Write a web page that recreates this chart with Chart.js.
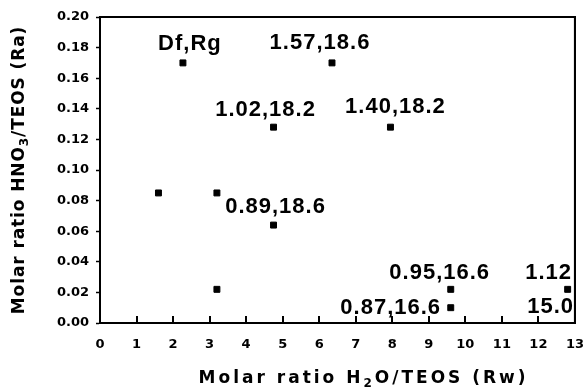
<!DOCTYPE html>
<html>
<head>
<meta charset="utf-8">
<script src="https://cdn.jsdelivr.net/npm/chart.js@4.4.0/dist/chart.umd.min.js"></script>
<style>
  html, body { margin: 0; padding: 0; background: #fff; }
  #wrap { width: 586px; height: 388px; }
</style>
</head>
<body>
<div id="wrap"><canvas id="chart" width="586" height="388"></canvas></div>
<script>
// Rw (H2O/TEOS) and Ra (HNO3/TEOS) of each sample
const rwValues = [1.6, 2.27, 3.2, 3.2, 4.75, 4.75, 6.35, 7.95, 9.6, 9.6, 12.8];
const raValues = [0.085, 0.170, 0.085, 0.022, 0.128, 0.064, 0.170, 0.128, 0.022, 0.010, 0.022];
// text next to each point (lines split by \n)
const pointLabels = ['', 'Df,Rg', '', '', '1.02,18.2', '0.89,18.6', '1.57,18.6', '1.40,18.2', '0.95,16.6', '0.87,16.6', '1.12\n15.0'];
const xTicks = [0, 1, 2, 3, 4, 5, 6, 7, 8, 9, 10, 11, 12, 13];
const yTicks = [0, 0.02, 0.04, 0.06, 0.08, 0.10, 0.12, 0.14, 0.16, 0.18, 0.20];

// pixel offsets of each label line from its point
const labelOffsets = [
    [], [[7, -19]], [], [], [[-8, -17]], [[2, -18]], [[-12, -20]], [[5, -20]],
    [[-11, -16]], [[-60, 0]], [[-19, -16], [-17, 18]]
];

const tickFont = { family: 'DejaVu Sans', weight: 'bold', size: 13 };

const pointLabelPlugin = {
    id: 'pointLabels',
    afterDatasetsDraw(chart) {
        const ctx = chart.ctx;
        const a = chart.chartArea;
        const meta = chart.getDatasetMeta(0);
        ctx.save();
        // box around the plot
        ctx.strokeStyle = '#000';
        ctx.lineWidth = 2;
        ctx.strokeRect(a.left, a.top, a.right - a.left, a.bottom - a.top);

        ctx.font = 'bold 22px "Liberation Sans", Arial, sans-serif';
        ctx.letterSpacing = '1px';
        ctx.fillStyle = '#000';
        ctx.textAlign = 'center';
        ctx.textBaseline = 'middle';
        meta.data.forEach((pt, i) => {
            const lines = pointLabels[i] ? pointLabels[i].split('\n') : [];
            lines.forEach((line, j) => {
                const off = labelOffsets[i][j] || [0, -18];
                ctx.fillText(line, pt.x + off[0], pt.y + off[1]);
            });
        });
        ctx.restore();
    }
};

// inner x ticks and axis titles with subscripts
const framePlugin = {
    id: 'boxTicks',
    afterDraw(chart) {
        const ctx = chart.ctx;
        const a = chart.chartArea;
        const xs = chart.scales.x;
        ctx.save();
        ctx.fillStyle = '#000';
        ctx.fillRect(a.left - 1, a.top - 1, a.right - a.left + 2, 2);
        ctx.fillRect(a.right - 1, a.top - 1, 2, a.bottom - a.top + 2);
        xTicks.forEach(v => {
            if (v === xTicks[0] || v === xTicks[xTicks.length - 1]) return;
            const px = Math.round(xs.getPixelForValue(v));
            ctx.fillRect(px - 1, a.bottom - 7, 2, 7);
        });

        ctx.textBaseline = 'middle';
        drawRich(ctx, [['Molar ratio H'], ['2', true], ['O/TEOS (Rw)']],
            a.left + (a.right - a.left) * 0.555, chart.height - 9, 0, 17, '3px');
        drawRich(ctx, [['Molar ratio HNO'], ['3', true], ['/TEOS (Ra)']],
            20, (a.top + a.bottom) / 2, -Math.PI / 2, 17, '0.9px');
        ctx.restore();
    }
};

function drawRich(ctx, parts, cx, cy, rot, size, spacing) {
    ctx.save();
    ctx.translate(cx, cy);
    ctx.rotate(rot);
    ctx.letterSpacing = spacing;
    const fontFor = sub => 'bold ' + (sub ? Math.round(size * 0.7) : size) + 'px "DejaVu Sans", sans-serif';
    let total = 0;
    parts.forEach(p => { ctx.font = fontFor(p[1]); total += ctx.measureText(p[0]).width; });
    let x = -total / 2;
    ctx.textAlign = 'left';
    parts.forEach(p => {
        ctx.font = fontFor(p[1]);
        ctx.fillText(p[0], x, p[1] ? size * 0.28 : 0);
        x += ctx.measureText(p[0]).width;
    });
    ctx.restore();
}

new Chart(document.getElementById('chart'), {
    type: 'scatter',
    data: {
        datasets: [{
            data: rwValues.map((x, i) => ({ x: x, y: raValues[i] })),
            backgroundColor: '#000',
            borderColor: '#000',
            pointStyle: 'rect',
            pointRadius: 4.2,
            pointHoverRadius: 4.2
        }]
    },
    options: {
        responsive: false,
        animation: false,
        devicePixelRatio: 1,
        layout: { padding: { top: 17, right: 0, left: 0, bottom: 0 } },
        plugins: { legend: { display: false }, tooltip: { enabled: false } },
        scales: {
            x: {
                type: 'linear',
                min: xTicks[0],
                max: xTicks[xTicks.length - 1],
                afterFit: s => { s.height = 65; },
                afterBuildTicks: s => { s.ticks = xTicks.map(v => ({ value: v })); },
                ticks: { font: tickFont, color: '#000', padding: 2, maxRotation: 0 },
                grid: { drawOnChartArea: false, drawTicks: true, tickLength: 12, tickColor: 'rgba(0,0,0,0)' },
                border: { color: '#000', width: 2 }
            },
            y: {
                type: 'linear',
                min: yTicks[0],
                max: yTicks[yTicks.length - 1],
                afterFit: s => { s.width = 100; },
                afterBuildTicks: s => { s.ticks = yTicks.map(v => ({ value: v })); },
                ticks: { font: tickFont, color: '#000', padding: 7, callback: v => v.toFixed(2) },
                grid: { drawOnChartArea: false, tickLength: 4, color: '#000', tickWidth: 1.5 },
                border: { color: '#000', width: 2 }
            }
        }
    },
    plugins: [pointLabelPlugin, framePlugin]
});
</script>
</body>
</html>
